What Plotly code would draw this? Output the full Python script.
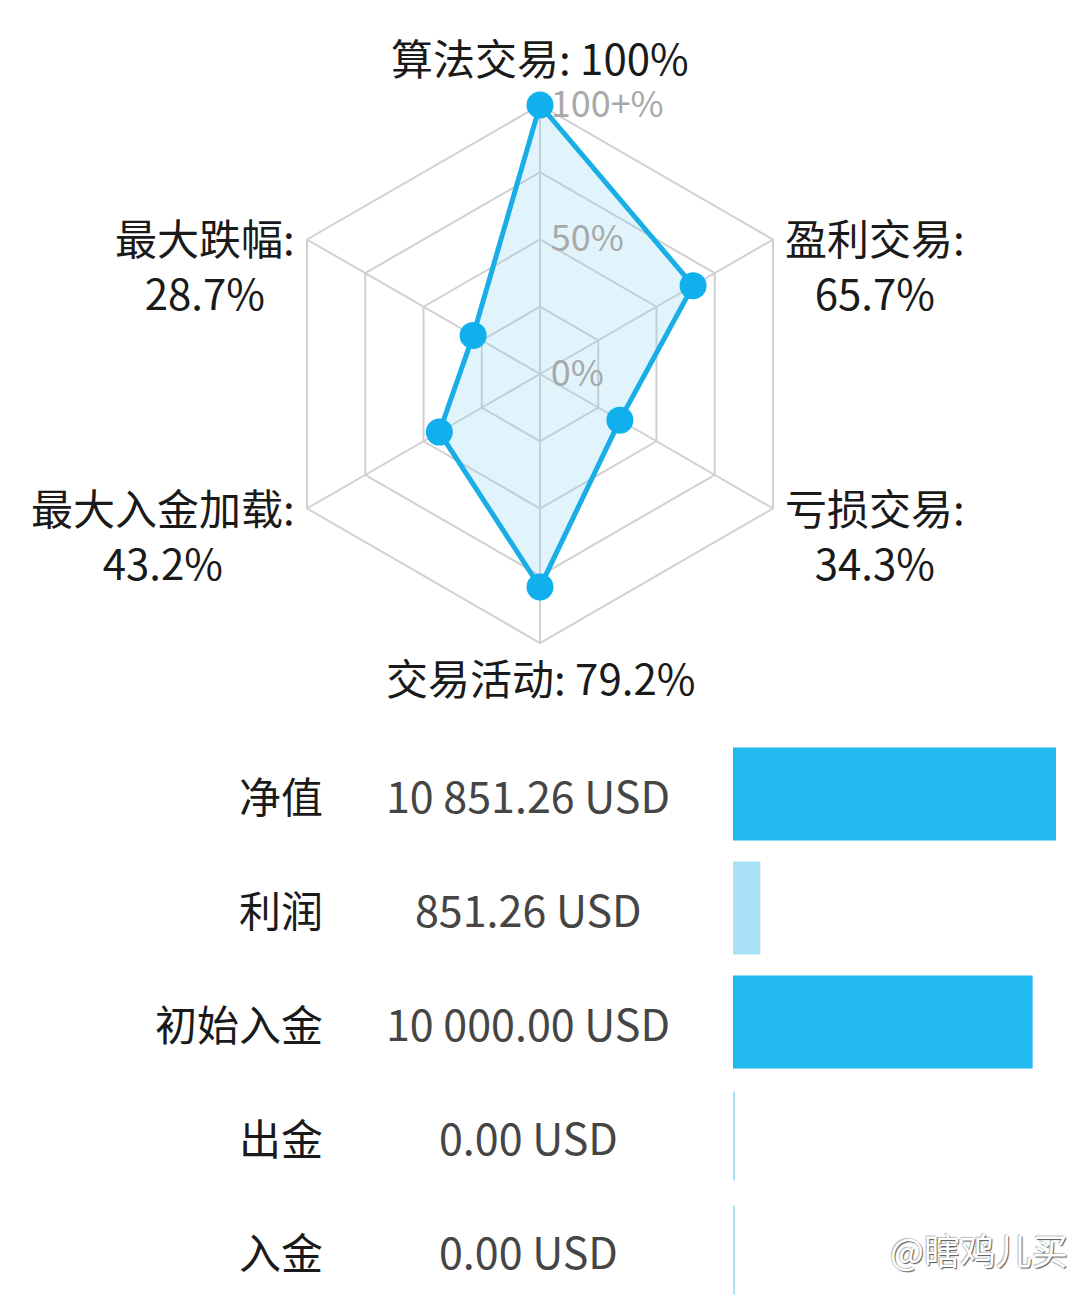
import math
import plotly.graph_objects as go

# ---------------- data ----------------
radar_categories = ["算法交易", "盈利交易", "亏损交易", "交易活动", "最大入金加载", "最大跌幅"]
radar_values = [100, 65.7, 34.3, 79.2, 43.2, 28.7]
radar_value_labels = ["100%", "65.7%", "34.3%", "79.2%", "43.2%", "28.7%"]
radial_tick_values = [0, 25, 50, 75, 100]
radial_tick_labels = ["0%", "", "50%", "", "100+%"]

bar_categories = ["净值", "利润", "初始入金", "出金", "入金"]
bar_values = [10851.26, 851.26, 10000.00, 0.00, 0.00]
bar_units = "USD"

# ---------------- styling / layout ----------------
W, H = 1080, 1307
FONT = "Noto Sans CJK SC, Noto Sans, sans-serif"
LINE_BLUE = "#1aaee6"
FILL_BLUE = "rgba(135, 212, 245, 0.25)"
GRID = "#d0d0d0"
BAR_DARK = "#22b9f0"
BAR_LIGHT = "#a9e1f8"

cx, cy, R = 540, 374, 269  # pixel centre / radius of radar (top-down)
polar_dom_x = [(cx - R) / W, (cx + R) / W]
polar_dom_y = [(H - cy - R) / H, (H - cy + R) / H]

fig = go.Figure()

theta_closed = radar_categories + [radar_categories[0]]
r_closed = radar_values + [radar_values[0]]

fig.add_trace(go.Scatterpolar(
    r=r_closed, theta=theta_closed, mode="lines", fill="toself",
    fillcolor=FILL_BLUE, line=dict(color=LINE_BLUE, width=5),
    hoverinfo="skip", showlegend=False,
))
fig.add_trace(go.Scatterpolar(
    r=radar_values, theta=radar_categories, mode="markers",
    marker=dict(color="#0fb0ec", size=27),
    hoverinfo="skip", showlegend=False, cliponaxis=False,
))

fig.update_layout(
    polar=dict(
        domain=dict(x=polar_dom_x, y=polar_dom_y),
        bgcolor="white",
        gridshape="linear",
        radialaxis=dict(range=[0, 100], tickmode="array", tickvals=radial_tick_values,
                        ticktext=radial_tick_labels,
                        showticklabels=True, ticks="outside", ticklen=3,
                        tickcolor="rgba(0,0,0,0)", angle=90, tickangle=90,
                        side="clockwise", layer="above traces",
                        tickfont=dict(family=FONT, size=36, color="#a9a9a9"),
                        showline=False, gridcolor=GRID, gridwidth=2),
        angularaxis=dict(rotation=90, direction="clockwise", showticklabels=False,
                         ticks="", showline=True, linecolor=GRID, linewidth=2,
                         gridcolor=GRID, gridwidth=2, layer="below traces",
                         categoryorder="array", categoryarray=radar_categories),
    )
)

# angular labels, placed around the hexagon vertices
annots = []
for k, (cat, lab) in enumerate(zip(radar_categories, radar_value_labels)):
    ang = math.radians(90 - 60 * k)
    vx = cx + R * math.cos(ang)
    vy = cy - R * math.sin(ang)
    if k == 0:
        txt, xa, ya, px, py = f"{cat}: {lab}", "center", "bottom", vx, vy - 16
    elif k == 3:
        txt, xa, ya, px, py = f"{cat}: {lab}", "center", "top", vx, vy + 1
    elif k in (1, 2):
        txt, xa, ya, px, py = f"{cat}:<br>{lab}", "left", "top", vx + 10, vy - 35
    else:
        txt, xa, ya, px, py = f"{cat}:<br>{lab}", "right", "top", vx - 10, vy - 35
    annots.append(dict(text=txt, x=px / W, y=(H - py) / H, xref="paper", yref="paper",
                       xanchor=xa, yanchor=ya, align="center", showarrow=False,
                       font=dict(family=FONT, size=42, color="#1a1a1a")))

# ---------------- bar section ----------------
bar_colors = [BAR_DARK if v >= 0.5 * max(bar_values) else BAR_LIGHT for v in bar_values]
fig.add_trace(go.Bar(
    x=bar_values, y=bar_categories, orientation="h", xaxis="x", yaxis="y",
    marker=dict(color=bar_colors, line=dict(color=bar_colors, width=4)),
    width=0.78, hoverinfo="skip", showlegend=False,
))

row_top, row_step = 737, 114
bars_y_dom = [(H - (row_top + row_step * len(bar_categories))) / H, (H - row_top) / H]
fig.update_layout(
    xaxis=dict(domain=[733 / W, 1056 / W], range=[0, max(bar_values)], visible=False,
               fixedrange=True),
    yaxis=dict(domain=[max(0, bars_y_dom[0]), bars_y_dom[1]], visible=False,
               categoryorder="array", categoryarray=bar_categories,
               autorange="reversed"),
)

for cat, v in zip(bar_categories, bar_values):
    val_txt = f"{v:,.2f}".replace(",", " ") + f" {bar_units}"
    annots.append(dict(text=cat, x=325 / W, y=cat, xref="paper", yref="y",
                       xanchor="right", yanchor="middle", showarrow=False,
                       font=dict(family=FONT, size=42, color="#1a1a1a")))
    annots.append(dict(text=val_txt, x=528 / W, y=cat, xref="paper", yref="y",
                       xanchor="center", yanchor="middle", showarrow=False,
                       font=dict(family=FONT, size=43, color="#454545")))

# watermark
annots.append(dict(text="@瞎鸡儿买", x=1070 / W, y=(H - 1249) / H, xref="paper", yref="paper",
                   xanchor="right", yanchor="middle", showarrow=False,
                   font=dict(family=FONT, size=36, color="white",
                             shadow="1px 1px 1px #555, -1px -1px 1px #bbb")))

fig.update_layout(
    width=W, height=H, margin=dict(l=0, r=0, t=0, b=0),
    paper_bgcolor="white", plot_bgcolor="white",
    annotations=annots, showlegend=False,
)

fig.write_html("out.html")
